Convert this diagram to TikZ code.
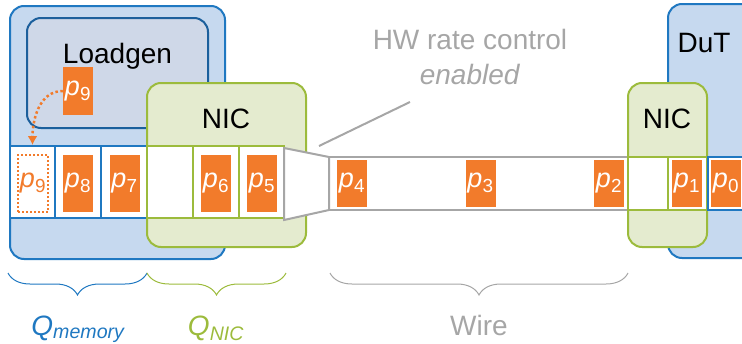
\documentclass[tikz,border=0pt]{standalone}
\usepackage{fontspec}
\setmainfont{Liberation Sans}
\usepackage{tikz}
\usetikzlibrary{arrows.meta,positioning,decorations.pathreplacing}
\definecolor{queueBlue}{HTML}{1F78C1}
\definecolor{queueBlueFill}{HTML}{C6D9EF}
\definecolor{queueNavy}{HTML}{1B5F9C}
\definecolor{queueNavyFill}{HTML}{CFD8E8}
\definecolor{queueGreen}{HTML}{9CBB3C}
\definecolor{queueGreenFill}{HTML}{E4EBCF}
\definecolor{queueOrange}{HTML}{F27B2B}
\definecolor{queueGray}{HTML}{A6A6A6}
\newcommand{\pkt}[1]{\textit{p}\textsubscript{#1}}
\tikzset{
  bigfont/.style={font=\fontsize{28}{35}\selectfont},
  hostbox/.style={
    rectangle,
    rounded corners=14pt,
    draw=queueBlue,
    fill=queueBlueFill,
    line width=2pt
  },
  appbox/.style={
    rectangle,
    rounded corners=14pt,
    draw=queueNavy,
    fill=queueNavyFill,
    line width=2pt
  },
  nicbox/.style={
    rectangle,
    rounded corners=14pt,
    draw=queueGreen,
    fill=queueGreenFill,
    line width=2pt
  },
  slotBlue/.style={
    rectangle,
    draw=queueBlue,
    fill=white,
    line width=2pt,
    inner sep=0pt,
    minimum height=72pt
  },
  slotGreen/.style={slotBlue,draw=queueGreen},
  packet/.style={
    rectangle,
    fill=queueOrange,
    text=white,
    inner sep=0pt,
    minimum width=30pt,
    minimum height=57pt,
    font=\fontsize{27}{30}\selectfont
  },
  wirepacket/.style={packet,minimum height=47pt},
  ghostpacket/.style={
    packet,
    fill=white,
    text=queueOrange,
    draw=queueOrange,
    dash pattern=on 2pt off 2pt,
    line width=2pt
  },
  wireline/.style={draw=queueGray,line width=2pt},
  hopArrow/.style={
    -{Latex[length=9pt,width=10pt]},
    draw=queueOrange,
    dash pattern=on 2.5pt off 2.5pt,
    line width=2.5pt
  },
  queuebrace/.style={
    decorate,
    decoration={brace,mirror,amplitude=22pt},
    line width=1pt
  }
}
\begin{document}
\begin{tikzpicture}[x=1pt,y=-1pt]
  \useasboundingbox (0,0) rectangle (742,343);
  \clip (0,0) rectangle (742,343);
  % load generator host
  \node[hostbox,minimum width=215pt,minimum height=253pt] (host) at (117.5,132.5) {};
  \node[appbox,minimum width=181pt,minimum height=110pt] (loadgen) at (117.5,73) {};
  \node[bigfont,anchor=base] (loadgenlabel) at (117.5,63) {Loadgen};
  \node[packet,minimum height=48pt] (lpnine) at (78,91) {\pkt{9}};
  \node[nicbox,minimum width=159pt,minimum height=164pt] (nicL) at (226.5,165) {};
  \node[bigfont,anchor=base] (niclabelL) at (226,128) {NIC};
  % queues in memory and in the NIC
  \node[slotBlue,minimum width=45pt] (slotA) at (32.5,182) {};
  \node[slotBlue,minimum width=46pt] (slotB) at (78,182) {};
  \node[slotBlue,minimum width=46pt] (slotC) at (124,182) {};
  \node[slotGreen,minimum width=46pt] (slotD) at (170,182) {};
  \node[slotGreen,minimum width=46pt] (slotE) at (216,182) {};
  \node[slotGreen,minimum width=45pt] (slotF) at (261.5,182) {};
  \node[ghostpacket] (pnine) at (33,183.5) {\pkt{9}};
  \node[packet] (peight) at (78,183.5) {\pkt{8}};
  \node[packet] (pseven) at (124.5,183.5) {\pkt{7}};
  \node[packet] (psix) at (216,183.5) {\pkt{6}};
  \node[packet] (pfive) at (262,183.5) {\pkt{5}};
  \draw[hopArrow] (lpnine.west) to[out=180,in=90] (slotA.north);
  % rate limiter and wire
  \draw[wireline,fill=white] (284,148) -- (329,157) -- (329,210) -- (284,220) -- cycle;
  \coordinate (wireA) at (329,157);
  \coordinate (wireB) at (628,157);
  \coordinate (wireC) at (329,210);
  \coordinate (wireD) at (628,210);
  \draw[wireline] (wireA) -- (wireB);
  \draw[wireline] (wireC) -- (wireD);
  \node[wirepacket] (pfour) at (352,183.5) {\pkt{4}};
  \node[wirepacket] (pthree) at (480.5,183.5) {\pkt{3}};
  \node[wirepacket] (ptwo) at (609,183.5) {\pkt{2}};
  % device under test
  \node[hostbox,minimum width=120pt,minimum height=254pt] (dut) at (728,131) {};
  \node[bigfont,anchor=base] (dutlabel) at (704,52) {DuT};
  \node[nicbox,minimum width=79pt,minimum height=164pt] (nicR) at (667.5,165) {};
  \node[bigfont,anchor=base] (niclabelR) at (667,128) {NIC};
  \node[slotGreen,minimum width=40pt,minimum height=53pt] (slotG) at (648,183.5) {};
  \node[slotGreen,minimum width=39pt,minimum height=53pt] (slotH) at (687.5,183.5) {};
  \node[slotBlue,minimum width=60pt,minimum height=53pt,anchor=west] (slotI) at (707,183.5) {};
  \node[wirepacket] (pone) at (687,183.5) {\pkt{1}};
  \node[wirepacket] (pzero) at (726,183.5) {\pkt{0}};
  % annotation
  \node[bigfont,text=queueGray,align=center] (ratelabel) at (470,57) {HW rate control\\\textit{enabled}};
  \coordinate (rateTail) at (410,102);
  \coordinate (rateTip) at (319,146);
  \draw[draw=queueGray,line width=2pt] (rateTail) -- (rateTip);
  % braces
  \coordinate (memA) at (8,273);
  \coordinate (memB) at (147,273);
  \coordinate (nicA) at (147,273);
  \coordinate (nicB) at (286,273);
  \coordinate (wireE) at (330,273);
  \coordinate (wireF) at (628,273);
  \draw[queuebrace,draw=queueBlue] (memA) -- (memB);
  \draw[queuebrace,draw=queueGreen] (nicA) -- (nicB);
  \draw[queuebrace,draw=queueGray] (wireE) -- (wireF);
  \node[bigfont,anchor=base,text=queueBlue] (memlabel) at (78,335) {\textit{Q\textsubscript{memory}}};
  \node[bigfont,anchor=base,text=queueGreen] (niclabel) at (216,335) {\textit{Q\textsubscript{NIC}}};
  \node[bigfont,anchor=base,text=queueGray] (wirelabel) at (479,335) {Wire};
\end{tikzpicture}
\end{document}
